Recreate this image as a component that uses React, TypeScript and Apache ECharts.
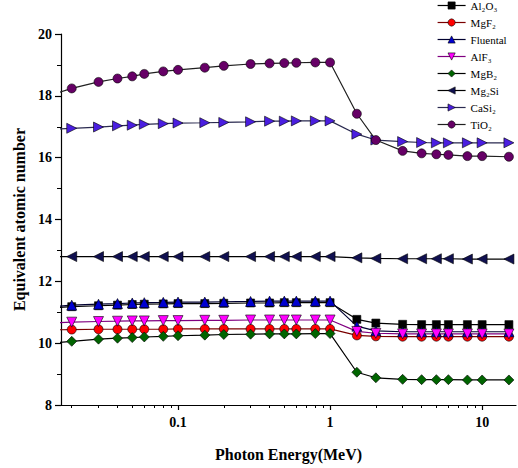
import React, { useEffect, useRef } from "react";
import * as echarts from "echarts";

const energies = [0.015, 0.02, 0.03, 0.04, 0.05, 0.06, 0.08, 0.1, 0.15, 0.2, 0.3, 0.4, 0.5, 0.6, 0.8, 1, 1.5, 2, 3, 4, 5, 6, 8, 10, 15];

const al2o3 = [11.14, 11.18, 11.21, 11.23, 11.25, 11.26, 11.27, 11.28, 11.28, 11.29, 11.3, 11.3, 11.31, 11.31, 11.31, 11.31, 10.77, 10.65, 10.61, 10.6, 10.6, 10.6, 10.6, 10.6, 10.6];
const mgf2 = [10.43, 10.44, 10.45, 10.45, 10.45, 10.45, 10.45, 10.46, 10.46, 10.46, 10.46, 10.46, 10.46, 10.46, 10.46, 10.46, 10.25, 10.22, 10.21, 10.21, 10.21, 10.21, 10.21, 10.21, 10.21];
const fluental = [11.18, 11.23, 11.26, 11.28, 11.3, 11.31, 11.32, 11.33, 11.33, 11.34, 11.35, 11.36, 11.36, 11.36, 11.36, 11.36, 10.55, 10.4, 10.37, 10.37, 10.37, 10.37, 10.37, 10.37, 10.37];
const alf3 = [10.65, 10.68, 10.7, 10.71, 10.72, 10.72, 10.73, 10.73, 10.74, 10.74, 10.75, 10.75, 10.75, 10.75, 10.75, 10.75, 10.38, 10.32, 10.3, 10.3, 10.3, 10.3, 10.3, 10.3, 10.3];
const mgb2 = [10.0, 10.06, 10.13, 10.16, 10.18, 10.2, 10.22, 10.24, 10.26, 10.28, 10.29, 10.3, 10.3, 10.3, 10.31, 10.31, 9.06, 8.88, 8.83, 8.82, 8.82, 8.82, 8.81, 8.81, 8.81];
const mg2si = [12.8, 12.8, 12.8, 12.8, 12.8, 12.8, 12.8, 12.8, 12.8, 12.8, 12.8, 12.8, 12.8, 12.8, 12.8, 12.8, 12.76, 12.74, 12.73, 12.73, 12.73, 12.73, 12.72, 12.72, 12.72];
const casi2 = [16.92, 16.95, 16.99, 17.03, 17.05, 17.08, 17.1, 17.12, 17.13, 17.14, 17.16, 17.18, 17.18, 17.19, 17.19, 17.19, 16.76, 16.57, 16.52, 16.49, 16.48, 16.48, 16.48, 16.48, 16.48];
const tio2 = [18.05, 18.24, 18.45, 18.56, 18.63, 18.71, 18.79, 18.84, 18.91, 18.97, 19.03, 19.05, 19.06, 19.07, 19.08, 19.08, 17.42, 16.57, 16.22, 16.14, 16.11, 16.09, 16.05, 16.05, 16.03];

const majorXTicks = [0.1, 1, 10];
const minorXTicks = [0.02, 0.03, 0.04, 0.05, 0.06, 0.07, 0.08, 0.09, 0.2, 0.3, 0.4, 0.5, 0.6, 0.7, 0.8, 0.9, 2, 3, 4, 5, 6, 7, 8, 9];

const seriesDefs = [
  { name: "Al\u2082O\u2083", data: al2o3, symbol: "rect", rotate: 0, fill: "#000000", line: "#000000", size: 8 },
  { name: "MgF\u2082", data: mgf2, symbol: "circle", rotate: 0, fill: "#ff0000", line: "#7a0000", size: 9 },
  { name: "Fluental", data: fluental, symbol: "triangle", rotate: 0, fill: "#0000d0", line: "#000030", size: 10 },
  { name: "AlF\u2083", data: alf3, symbol: "triangle", rotate: 180, fill: "#ff00ff", line: "#800080", size: 10 },
  { name: "MgB\u2082", data: mgb2, symbol: "diamond", rotate: 0, fill: "#006400", line: "#000000", size: 10 },
  { name: "Mg\u2082Si", data: mg2si, symbol: "triangle", rotate: 90, fill: "#101050", line: "#000000", size: 10 },
  { name: "CaSi\u2082", data: casi2, symbol: "triangle", rotate: -90, fill: "#4a1ee0", line: "#2a2a50", size: 10 },
  { name: "TiO\u2082", data: tio2, symbol: "circle", rotate: 0, fill: "#660066", line: "#202020", size: 9 },
];

const FONT = "'Liberation Serif', 'Times New Roman', serif";

export default function App() {
  const ref = useRef<HTMLDivElement>(null);
  useEffect(() => {
    if (!ref.current) return;
    const chart = echarts.init(ref.current, null, { renderer: "svg" });
    const xBase = {
      type: "log",
      min: 0.017,
      max: 16.7,
      splitLine: { show: false },
      gridIndex: 0,
    };
    chart.setOption({
      animation: false,
      backgroundColor: "#ffffff",
      grid: { left: 61, right: 2, top: 34, bottom: 63, containLabel: false },
      legend: {
        orient: "vertical",
        left: 432,
        top: -5,
        itemWidth: 28,
        itemHeight: 9,
        itemGap: 6,
        textStyle: { fontFamily: FONT, fontSize: 11, color: "#000" },
        data: seriesDefs.map((s) => ({
          name: s.name,
          itemStyle: { color: s.fill, borderColor: "#000", borderWidth: 0.6 },
          lineStyle: { color: s.line, width: 1.2 },
        })),
      },
      xAxis: [
        {
          ...xBase,
          name: "Photon Energy(MeV)",
          nameLocation: "middle",
          nameGap: 41,
          nameTextStyle: { fontFamily: FONT, fontSize: 16, fontWeight: "bold", color: "#000" },
          axisLine: { show: true, lineStyle: { color: "#000", width: 1.2 } },
          axisTick: { show: true, length: 5, inside: false, customValues: majorXTicks, lineStyle: { color: "#000", width: 1.2 } },
          axisLabel: {
            customValues: majorXTicks,
            margin: 10,
            fontFamily: FONT,
            fontSize: 14,
            fontWeight: "bold",
            color: "#000",
            formatter: (v: number) => String(v),
          },
        },
        {
          ...xBase,
          position: "bottom",
          axisLine: { show: false },
          axisTick: { show: true, length: 3, inside: false, customValues: minorXTicks, lineStyle: { color: "#000", width: 1 } },
          axisLabel: { show: false },
        },
      ],
      yAxis: {
        type: "value",
        min: 8,
        max: 20,
        interval: 2,
        name: "Equivalent atomic number",
        nameLocation: "middle",
        nameGap: 29,
        nameTextStyle: { fontFamily: FONT, fontSize: 16, fontWeight: "bold", color: "#000" },
        splitLine: { show: false },
        axisLine: { show: true, lineStyle: { color: "#000", width: 1.2 } },
        axisTick: { show: true, length: 6, inside: false, lineStyle: { color: "#000", width: 1.2 } },
        minorTick: { show: true, splitNumber: 2, length: 4, lineStyle: { color: "#000", width: 1 } },
        axisLabel: { margin: 9, fontFamily: FONT, fontSize: 14, fontWeight: "bold", color: "#000" },
      },
      series: seriesDefs.map((s) => ({
        name: s.name,
        type: "line",
        xAxisIndex: 0,
        data: energies.map((e, i) => [e, s.data[i]]),
        symbol: s.symbol,
        symbolSize: s.size,
        symbolRotate: s.rotate,
        showAllSymbol: true,
        clip: true,
        lineStyle: { color: s.line, width: 1.2 },
        itemStyle: { color: s.fill, borderColor: "#000", borderWidth: 0.6 },
        emphasis: { disabled: true },
      })),
    });
    return () => chart.dispose();
  }, []);
  return <div ref={ref} style={{ position: "fixed", left: 0, top: 0, width: 518, height: 468 }} />;
}
